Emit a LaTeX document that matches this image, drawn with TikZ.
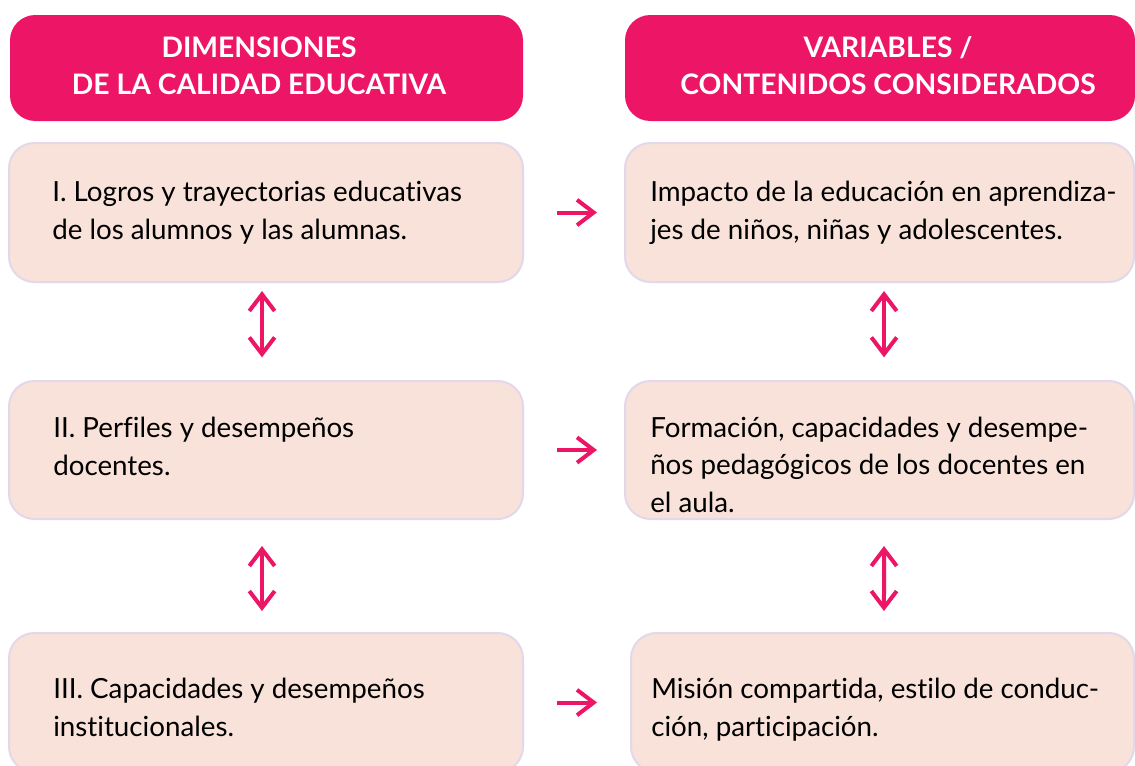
\documentclass[tikz,border=0pt]{standalone}
\usepackage{fontspec}
\setmainfont{Lato}[Ligatures=NoCommon]
\usetikzlibrary{arrows.meta}
\definecolor{mag}{HTML}{EC1566}
\definecolor{peach}{HTML}{F8E2DA}
\definecolor{lav}{HTML}{E3D7EC}
\tikzset{
  hdrbox/.style={fill=mag, draw=none, rounded corners=19pt, inner sep=0pt},
  hdrtxt/.style={text=white, font=\fontsize{21.2}{27.75}\selectfont\bfseries, align=center, inner sep=0pt, anchor=base},
  cbox/.style={fill=peach, draw=lav, line width=1.5pt, rounded corners=19pt, inner sep=0pt},
  ctxt/.style={text=black, font=\fontsize{20.8}{28}\selectfont, align=left, inner sep=0pt, anchor=base west},
  tip/.tip={Straight Barb[length=12.5pt,width=19pt,line width=3pt]},
  arr/.style={draw=mag, line width=3pt, -tip},
  darr/.style={draw=mag, line width=3pt, tip-tip}
}
\begin{document}
\begin{tikzpicture}[x=0.75pt,y=-0.75pt]
\useasboundingbox (0,0) rectangle (1135,765);
\clip (0,0) rectangle (1135,765);
\fill[white] (0,0) rectangle (1135,765);
% headers
\node[hdrbox, minimum width=513*0.75pt, minimum height=106*0.75pt] (LH) at (266.5,68) {};
\node[hdrbox, minimum width=510*0.75pt, minimum height=106*0.75pt] (RH) at (880,68) {};
\node[hdrtxt] (LHt) at (259,94) {DIMENSIONES\\DE LA CALIDAD EDUCATIVA};
\node[hdrtxt] (RHt) at (888,94) {VARIABLES /\\CONTENIDOS CONSIDERADOS};
% content boxes
\node[cbox, minimum width=514*0.75pt, minimum height=139*0.75pt] (L1) at (266,212.5) {};
\node[cbox, minimum width=509*0.75pt, minimum height=139*0.75pt] (R1) at (879.5,212.5) {};
\node[cbox, minimum width=514*0.75pt, minimum height=138*0.75pt] (L2) at (266,450) {};
\node[cbox, minimum width=509*0.75pt, minimum height=138*0.75pt] (R2) at (879.5,450) {};
\node[cbox, minimum width=514*0.75pt, minimum height=139*0.75pt] (L3) at (266,702.5) {};
\node[cbox, minimum width=503*0.75pt, minimum height=139*0.75pt] (R3) at (882.5,702.5) {};
% texts (anchored at the baseline of the last line)
\node[ctxt] (L1t) at (52,239) {I. Logros y trayectorias educativas\\de los alumnos y las alumnas.};
\node[ctxt] (R1t) at (650,239) {Impacto de la educación en aprendiza-\\jes de niños, niñas y adolescentes.};
\node[ctxt] (L2t) at (53,475) {II. Perfiles y desempeños\\docentes.};
\node[ctxt] (R2t) at (650,512) {Formación, capacidades y desempe-\\ños pedagógicos de los docentes en\\el aula.};
\node[ctxt] (L3t) at (53,736) {III. Capacidades y desempeños\\institucionales.};
\node[ctxt] (R3t) at (651,736) {Misión compartida, estilo de conduc-\\ción, participación.};
% horizontal arrows
\draw[arr, shorten <=24.75pt, shorten >=20.25pt] (L1.east) -- (R1.west);
\draw[arr, shorten <=24.75pt, shorten >=20.25pt] (L2.east) -- (R2.west);
\draw[arr, shorten <=24.75pt, shorten >=24.75pt] (L3.east) -- (R3.west);
% vertical arrows
\draw[darr, shorten <=6pt, shorten >=17pt] ([xshift=-3pt]L1.south) -- ([xshift=-3pt]L2.north);
\draw[darr, shorten <=19.5pt, shorten >=15.75pt] ([xshift=-3pt]L2.south) -- ([xshift=-3pt]L3.north);
\draw[darr, shorten <=6pt, shorten >=17pt] ([xshift=3.4pt]R1.south) -- ([xshift=3.4pt]R2.north);
\draw[darr, shorten <=19.5pt, shorten >=15.75pt] ([xshift=3.4pt]R2.south) -- ([xshift=1.1pt]R3.north);
\end{tikzpicture}
\end{document}
